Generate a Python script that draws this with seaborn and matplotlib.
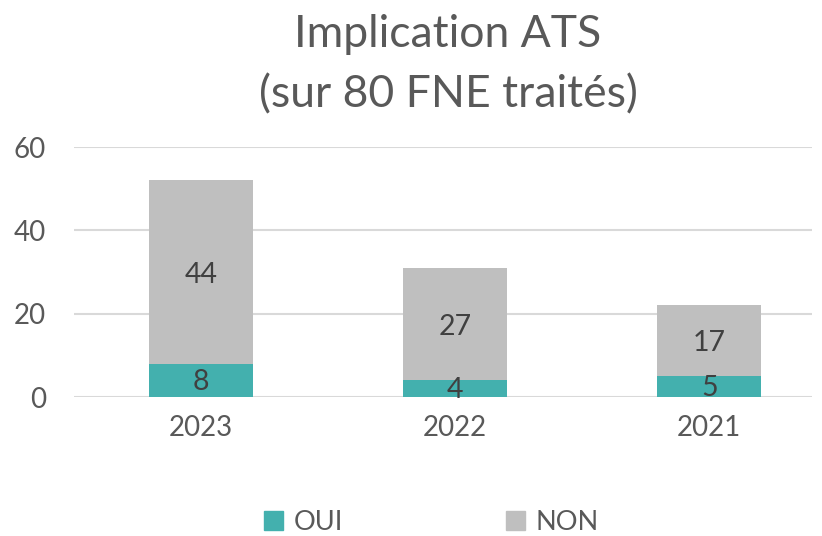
import numpy as np
import pandas as pd
import matplotlib
matplotlib.use("Agg")
import matplotlib.pyplot as plt
import seaborn as sns
from matplotlib.patches import Patch

# data
years = ["2023", "2022", "2021"]
oui = [8, 4, 5]
non = [44, 27, 17]
y_ticks = [0, 20, 40, 60]

teal = "#43B0AE"
grey = "#BFBFBF"
text_grey = "#595959"

sns.set_style("white")
plt.rcParams["font.family"] = ["Lato", "DejaVu Sans"]

df = pd.DataFrame({"year": years, "oui": oui, "non": non})
df["total"] = df["oui"] + df["non"]

fig = plt.figure(figsize=(8.22, 5.36), dpi=100)
ax = fig.add_axes([0.090, 0.2593, 0.898, 0.4664])

# stacked bars: total in grey, OUI drawn over it
sns.barplot(data=df, x="year", y="total", color=grey, width=0.41,
            saturation=1, linewidth=0, ax=ax, zorder=2)
sns.barplot(data=df, x="year", y="oui", color=teal, width=0.41,
            saturation=1, linewidth=0, ax=ax, zorder=3)

for i, row in df.iterrows():
    ax.text(i, row["oui"] / 2 - 0.4, str(row["oui"]), ha="center", va="center",
            fontsize=20.5, color="#404040", zorder=4)
    ax.text(i, row["oui"] + row["non"] / 2 - 0.6, str(row["non"]), ha="center",
            va="center", fontsize=20.5, color="#404040", zorder=4)

ax.set_ylim(0, 60)
ax.set_xlim(-0.5, 2.405)
ax.set_yticks(y_ticks)
ax.yaxis.grid(True, color="#D9D9D9", linewidth=1.5, zorder=0)
ax.set_axisbelow(True)
ax.set_xlabel("")
ax.set_ylabel("")
ax.tick_params(axis="both", length=0, labelsize=20, colors=text_grey, pad=13)
ax.tick_params(axis="y", pad=20)
for s in ax.spines.values():
    s.set_visible(False)

fig.text(0.545, 0.935, "Implication ATS", ha="center", va="center",
         fontsize=32, color=text_grey)
fig.text(0.545, 0.823, "(sur 80 FNE traités)", ha="center", va="center",
         fontsize=32, color=text_grey)

handles = [Patch(color=teal, label="OUI"), Patch(color=grey, label="NON")]
fig.legend(handles=handles, loc="center", bbox_to_anchor=(0.525, 0.026),
           ncol=2, frameon=False, fontsize=19.5, labelcolor=text_grey,
           handlelength=0.7, handleheight=0.7, handletextpad=0.4,
           columnspacing=6.0)

fig.savefig("out.png", dpi=100)
